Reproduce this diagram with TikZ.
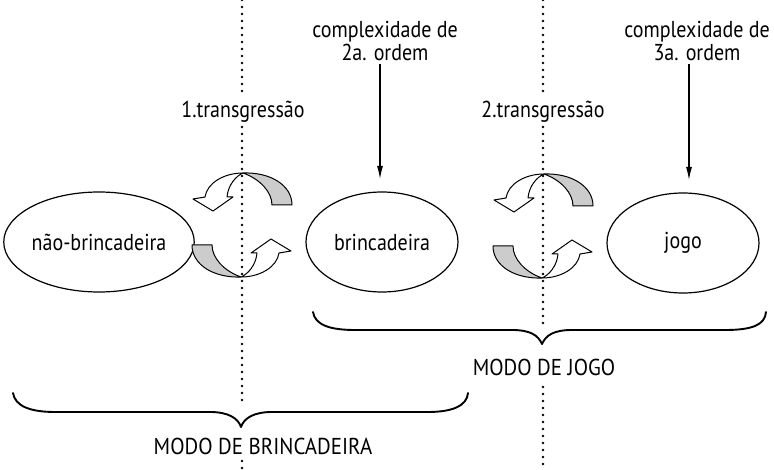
\documentclass[tikz,border=0pt]{standalone}
\usepackage{fontspec}
\setmainfont{PT Sans}[FakeStretch=0.87]
\newfontfamily\capsfont{PT Sans}[FakeStretch=0.91]
\usetikzlibrary{shapes.geometric,arrows.meta}
\newcommand\RibbonArrow{%
  \filldraw[ribbon, fill=white] (1,-52) .. controls (-18,-52) and (-35,-42) .. (-37,-28) -- (-49,-26) -- (-29,-14) -- (-9,-28) -- (-15,-28) .. controls (-14,-40) and (-6,-49) .. (1,-52) -- cycle;
  \filldraw[ribbon, fill=gray!40] (1,-52) .. controls (28,-53) and (50,-40) .. (50,-20) -- (30,-20) .. controls (30,-33) and (18,-46) .. (1,-52) -- cycle;}
\begin{document}
\begin{tikzpicture}[x=1pt,y=-1pt,
  lbl/.style={font=\fontsize{23}{23}\selectfont, text=black, inner sep=0pt, align=center},
  capslbl/.style={font=\capsfont\fontsize{23}{23}\selectfont, text=black, inner sep=0pt},
  oval/.style={ellipse, draw=black, line width=1.2pt, minimum width=152pt, minimum height=100pt, inner sep=0pt, text=black, font=\fontsize{23}{23}\selectfont},
  dotline/.style={line width=2.8pt, line cap=round, dash pattern=on 0pt off 7pt, black},
  arr/.style={line width=1.1pt, -{Latex[length=13pt,width=6pt]}},
  bracestyle/.style={line width=1.9pt, line cap=round, line join=round},
  ribbon/.style={draw=black, line width=1pt, line join=round},
]
\path[use as bounding box] (0,0) rectangle (774,470);

% dotted separators
\coordinate (d1a) at (242,0);   \coordinate (d1b) at (242,98);
\coordinate (d1c) at (242,127); \coordinate (d1d) at (242,404);
\coordinate (d1e) at (242,461); \coordinate (d1f) at (242,470);
\coordinate (d2a) at (543,0);   \coordinate (d2b) at (543,98);
\coordinate (d2c) at (543,127); \coordinate (d2d) at (543,325);
\coordinate (d2e) at (543,387); \coordinate (d2f) at (543,470);
\draw[dotline] (d1a) -- (d1b) (d1c) -- (d1d) (d1e) -- (d1f);
\draw[dotline] (d2a) -- (d2b) (d2c) -- (d2d) (d2e) -- (d2f);

% labels
\node[lbl] (c2) at (385,41) {complexidade de\\2a. ordem};
\node[lbl] (c3) at (697,41) {complexidade de\\3a. ordem};
\node[lbl] (t1) at (243,112) {1.transgressão};
\node[lbl] (t2) at (543,112) {2.transgressão};

% ellipses
\node[oval] (nb) at (99,242) {não-brincadeira};
\node[oval] (b) at (382,242) {brincadeira};
\node[oval] (j) at (683,243) {jogo};

% complexity arrows
\coordinate (a2) at (380,179);
\coordinate (a3) at (689,180);
\draw[arr, shorten <=3pt] (c2.south -| a2) -- (a2);
\draw[arr, shorten <=3pt] (c3.south -| a3) -- (a3);

% twisted circular arrows
\begin{scope}[shift={(242,225)}] \RibbonArrow \end{scope}
\begin{scope}[shift={(242,225)},rotate=180] \RibbonArrow \end{scope}
\begin{scope}[shift={(543,226)}] \RibbonArrow \end{scope}
\begin{scope}[shift={(543,226)},rotate=180] \RibbonArrow \end{scope}

% braces
\draw[bracestyle] (313,312) .. controls (315,325) and (330,330) .. (355,330) -- (512,330)
  .. controls (530,330) and (538,335) .. (542,344)
  .. controls (546,335) and (554,330) .. (572,330) -- (725,330)
  .. controls (752,330) and (765,325) .. (766,312);
\draw[bracestyle] (13,393) .. controls (15,406) and (30,412) .. (55,412) -- (210,412)
  .. controls (228,412) and (238,418) .. (241,427)
  .. controls (244,418) and (254,412) .. (272,412) -- (428,412)
  .. controls (452,412) and (467,406) .. (468,393);

\node[capslbl] (mj) at (544,367) {MODO DE JOGO};
\node[capslbl] (mb) at (263,446) {MODO DE BRINCADEIRA};
\end{tikzpicture}
\end{document}
